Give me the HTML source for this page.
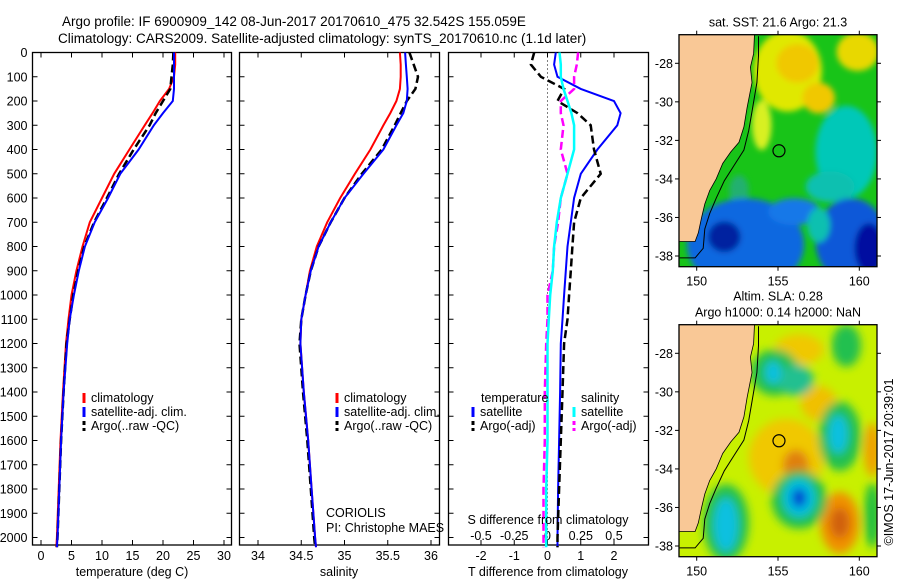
<!DOCTYPE html>
<html><head><meta charset="utf-8"><style>
html,body{margin:0;padding:0;background:#fff}
svg{display:block}
text{font-family:"Liberation Sans",sans-serif;font-size:12.5px;fill:#000}
</style></head><body>
<svg id="fig" width="900" height="580" viewBox="0 0 900 580" xmlns="http://www.w3.org/2000/svg">
<defs>
<filter id="bl" x="-50%" y="-50%" width="200%" height="200%"><feGaussianBlur stdDeviation="4.5"/></filter>
<filter id="bs" x="-50%" y="-50%" width="200%" height="200%"><feGaussianBlur stdDeviation="3"/></filter>
<clipPath id="c1"><rect x="679" y="34.7" width="198" height="232"/></clipPath>
<clipPath id="c2"><rect x="679" y="324.7" width="198" height="232"/></clipPath>
</defs>
<text x="62" y="26" style="font-size:13.5px">Argo profile: IF 6900909_142 08-Jun-2017 20170610_475 32.542S 155.059E</text>
<text x="58" y="43" style="font-size:13.5px">Climatology: CARS2009. Satellite-adjusted climatology: synTS_20170610.nc (1.1d later)</text>
<g id="plots"></g>
<g id="maps"></g>
<text transform="translate(893,462) rotate(-90)" text-anchor="middle" style="font-size:12.5px">©IMOS 17-Jun-2017 20:39:01</text>
</svg>
<script>
const depth=[0,50,100,150,200,250,300,400,500,600,700,800,900,1000,1100,1200,1400,1600,1800,2000,2040];
const tClim=[22,22,21.8,21,19.5,18.3,17,14.5,12,10,8,6.8,5.8,5,4.5,4.1,3.6,3.2,2.9,2.6,2.5];
const tSat=[21.8,21.8,21.8,21.8,21.6,20,18.5,16,13,11,8.8,7.2,6.2,5.4,4.7,4.3,3.7,3.3,3,2.7,2.6];
const tArgo=[21.7,21.6,21.4,21.2,20,18.8,17.8,15.2,12.8,10.8,8.7,7.1,6.1,5.3,4.7,4.2,3.7,3.3,3,2.7,2.6];
const sClim=[35.64,35.65,35.65,35.64,35.6,35.53,35.45,35.3,35.12,34.95,34.8,34.68,34.6,34.55,34.5,34.49,34.53,34.58,34.62,34.66,34.67];
const sSat=[35.7,35.71,35.72,35.73,35.72,35.68,35.6,35.45,35.22,35.0,34.84,34.7,34.61,34.55,34.5,34.49,34.53,34.58,34.62,34.66,34.67];
const sArgo=[35.75,35.8,35.85,35.82,35.72,35.65,35.58,35.43,35.2,35.0,34.84,34.7,34.61,34.55,34.5,34.48,34.52,34.57,34.61,34.65,34.66];
const dTSat=[0.25,0.2,0.3,1.0,2.0,2.2,2.1,1.5,1.0,0.8,0.7,0.6,0.55,0.5,0.45,0.4,0.38,0.35,0.32,0.3,0.3];
const dTArgo=[-0.4,-0.5,-0.2,0.5,0.3,0.9,1.3,1.4,1.6,1.0,0.8,0.75,0.7,0.65,0.6,0.5,0.45,0.4,0.35,0.3,0.3];
const dSSat=[0.09,0.1,0.1,0.12,0.15,0.18,0.2,0.2,0.15,0.1,0.07,0.05,0.04,0.02,0.01,0,0,0,-0.01,-0.01,-0.01];
const dSArgo=[0.23,0.22,0.2,0.2,0.1,0.1,0.12,0.1,0.15,0.1,0.08,0.05,0.04,0,0,-0.01,-0.02,-0.02,-0.03,-0.03,-0.03];
const depthTicks=[0,100,200,300,400,500,600,700,800,900,1000,1100,1200,1300,1400,1500,1600,1700,1800,1900,2000];
const tTicks=[0,5,10,15,20,25,30];
const sTicks=[34,34.5,35,35.5,36];
const dTTicks=[-2,-1,0,1,2];
const dSTicks=[-0.5,-0.25,0,0.25,0.5];

const NS='http://www.w3.org/2000/svg';
const root=document.getElementById('plots');
function el(tag,attrs,parent,txt){const e=document.createElementNS(NS,tag);for(const k in attrs)e.setAttribute(k,attrs[k]);if(txt!==undefined)e.textContent=txt;(parent||root).appendChild(e);return e;}
const TOP=52.5,BOT=545;
const yD=d=>TOP+d*0.2425;
function lin(v0,p0,v1,p1){return v=>p0+(v-v0)*(p1-p0)/(v1-v0);}
const xT=lin(0,41,30,224), xS=lin(34,258,36,431), xDT=lin(-2,481,2,614), xDS=lin(-0.5,481,0.5,614);
const panels=[[32.5,231.5],[239.5,439.5],[448.5,648.5]];

function frame(i,name){const [l,r]=panels[i];
 const g=el('g',{});
 
 
 el('rect',{x:l,y:TOP,width:r-l,height:BOT-TOP,fill:'#fff',stroke:'#000','stroke-width':1.3},g);
 depthTicks.forEach(d=>{const y=yD(d);
  el('line',{x1:l,y1:y,x2:l+5,y2:y,stroke:'#000'},g);
  el('line',{x1:r,y1:y,x2:r-5,y2:y,stroke:'#000'},g);
  if(i===0){const t=el('text',{x:l-5,y:y+4.5,'text-anchor':'end'},g,String(d));
   
   }
 });
 return g;}
function xticks(g,ticks,sx,y0,ly){ticks.forEach(v=>{const x=sx(v);
 el('line',{x1:x,y1:TOP,x2:x,y2:TOP+5,stroke:'#000'},g);
 el('line',{x1:x,y1:BOT,x2:x,y2:BOT-5,stroke:'#000'},g);
 const t=el('text',{x:x,y:ly,'text-anchor':'middle'},g,String(v));
 
 });}
function line(g,xs,sx,color,dash,w,name){
 const pts=xs.map((v,k)=>sx(v).toFixed(1)+','+yD(depth[k]).toFixed(1)).join(' ');
 const p=el('polyline',{points:pts,fill:'none',stroke:color,'stroke-width':w||2,'stroke-dasharray':dash||'none'},g);
 
 }
function legend(g,x,y,color,dash,label,name){
 const m=el('line',{x1:x,y1:y-9,x2:x,y2:y+1,stroke:color,'stroke-width':3,'stroke-dasharray':dash||'none'},g);
 
 
 const t=el('text',{x:x+7,y:y},g,label);
 
 }
function label(g,x,y,txt,name,anchor){const t=el('text',{x:x,y:y,'text-anchor':anchor||'start'},g,txt);
 
 }

let g=frame(0,'temperature-panel');
xticks(g,tTicks,xT,BOT,560);
line(g,tClim,xT,'#f00','',2,'temp-climatology-line');
line(g,tArgo,xT,'#000','8,4',2.5,'temp-argo-line');
line(g,tSat,xT,'#00f','',2,'temp-satellite-line');
label(g,132,576,'temperature (deg C)','x-axis-title','middle');
legend(g,84,402,'#f00','','climatology','legend-climatology');
legend(g,84,416,'#00f','','satellite-adj. clim.','legend-satellite');
legend(g,84,430,'#000','4,3','Argo(..raw -QC)','legend-argo');

g=frame(1,'salinity-panel');
xticks(g,sTicks,xS,BOT,560);
line(g,sClim,xS,'#f00','',2,'sal-climatology-line');
line(g,sArgo,xS,'#000','8,4',2.5,'sal-argo-line');
line(g,sSat,xS,'#00f','',2,'sal-satellite-line');
label(g,339,576,'salinity','x-axis-title','middle');
legend(g,337,402,'#f00','','climatology','legend-climatology');
legend(g,337,416,'#00f','','satellite-adj. clim.','legend-satellite');
legend(g,337,430,'#000','4,3','Argo(..raw -QC)','legend-argo');
label(g,326,517,'CORIOLIS','platform-label');
label(g,326,532,'PI: Christophe MAES','pi-label');

g=frame(2,'difference-panel');
xticks(g,dTTicks,xDT,BOT,560);
dSTicks.forEach(v=>{const t=el('text',{x:xDS(v),y:540,'text-anchor':'middle'},g,String(v));
 
 });
el('line',{x1:xDT(0),y1:TOP,x2:xDT(0),y2:BOT,stroke:'#000','stroke-dasharray':'1,3'},g);
line(g,dTSat,xDT,'#00f','',2,'dT-satellite-line');
line(g,dTArgo,xDT,'#000','8,4',2.5,'dT-argo-line');
line(g,dSArgo,xDS,'#f0f','8,4',2.5,'dS-argo-line');
line(g,dSSat,xDS,'#0ff','',2.5,'dS-satellite-line');
label(g,548,524,'S difference from climatology','s-axis-title','middle');
label(g,548,576,'T difference from climatology','t-axis-title','middle');
label(g,481,402,'temperature','legend-temperature-header');
label(g,581,402,'salinity','legend-salinity-header');
legend(g,473,416,'#00f','','satellite','legend-t-satellite');
legend(g,473,430,'#000','4,3','Argo(-adj)','legend-t-argo');
legend(g,574,416,'#0ff','','satellite','legend-s-satellite');
legend(g,574,430,'#f0f','4,3','Argo(-adj)','legend-s-argo');

const mroot=document.getElementById('maps');
const mx=lin(150,696.7,160,859.3);
const coast=[[153.55,-26.6],[153.5,-27.5],[153.3,-28.2],[153.4,-29],[153.1,-30.3],[152.9,-31.3],[152.6,-32.1],[152.1,-32.6],[151.6,-33.2],[151.2,-34],[150.8,-34.6],[150.5,-35.3],[150.3,-36],[150.1,-36.8],[149.9,-37.25],[148.9,-37.25]];
const shelf=[[153.8,-26.6],[153.8,-27.6],[153.7,-29],[153.4,-30.5],[153.2,-31.5],[152.9,-32.5],[152.3,-33.3],[151.7,-34.1],[151.2,-35],[150.8,-35.8],[150.5,-36.6],[150.4,-37.6],[149.9,-38.1],[148.9,-38.1]];
const sstBlobs=[[155.6,-28.4,2.1,2.1,'#e0e800'],[156.2,-28,1.3,1,'#f0c800'],[157.5,-29.8,1,0.8,'#f0c800'],[159.9,-27.4,1.3,1,'#e8d800'],[154,-31.2,0.6,1.3,'#d8f020'],[159.2,-32.6,1.9,2.4,'#00c8b8'],[158.2,-34.4,1.5,0.8,'#10c0b0'],[152.6,-34.6,0.6,0.8,'#20b070'],[153,-37.4,3.6,2.4,'#1068e0'],[159.5,-37.2,2.2,2.2,'#1058d8'],[156,-35.7,1.6,0.7,'#1878e8'],[151.7,-37,1,0.8,'#0020a0'],[160.6,-37.6,0.9,1.3,'#0010a0'],[157.5,-36.4,0.7,0.9,'#10c0b0']];
const slaBlobs=[[155.5,-33.4,2.3,2,'#f0c800'],[156.1,-33.8,0.8,0.8,'#e08010'],[156.3,-27.8,1.5,0.8,'#f0c800'],[157.5,-30.6,1.1,0.9,'#f0c000'],[160.8,-33,0.5,1.4,'#f0a000'],[158.8,-36.8,1.2,1.6,'#f09000'],[158.8,-36.8,0.6,0.8,'#d06010'],[154.8,-29,1.5,1.2,'#20c050'],[156.1,-29.4,1.1,0.8,'#20c090'],[154.7,-29,0.5,0.6,'#10c0e0'],[158.8,-32.3,1.3,1.8,'#20c050'],[158.7,-32.2,0.6,1,'#10c0e0'],[156.3,-35.6,1.7,1.5,'#20c050'],[156.3,-35.5,1,1,'#00c0e0'],[156.3,-35.5,0.45,0.5,'#0040d0'],[151.8,-36.8,1.4,2,'#20c050'],[151.8,-36.9,0.75,1.4,'#10c0e0'],[159.2,-27.6,0.9,1.1,'#20c050'],[160.8,-36.4,0.5,1.7,'#20c040']];
function mapPanel(top,name,title,bg,blobs,clip,filt){
 const my=lin(-28,top+28.6,-38,top+221.3);
 const g=el('g',{},mroot);
 
 
 const c=el('g',{'clip-path':'url(#'+clip+')'},g);
 el('rect',{x:679,y:top,width:198,height:232,fill:bg},c);
 const bg2=el('g',{filter:'url(#'+filt+')'},c);
 blobs.forEach(b=>{const e=el('ellipse',{cx:mx(b[0]),cy:my(b[1]),rx:b[2]*16.26,ry:b[3]*19.27,fill:b[4]},bg2);
  
  });
 const toP=a=>a.map(p=>mx(p[0]).toFixed(1)+','+my(p[1]).toFixed(1)).join(' ');
 el('polyline',{points:toP(shelf),fill:'none',stroke:'#000','stroke-width':1},c);
 const land=el('polygon',{points:toP(coast)+' '+mx(148.9)+','+(top-2)+' '+mx(153.55)+','+(top-2),fill:'#f9c896',stroke:'#000','stroke-width':0.8},c);
 
 
 const mk=el('circle',{cx:mx(155.06),cy:my(-32.54),r:6,fill:'none',stroke:'#000','stroke-width':1.2},g);
 
 
 el('rect',{x:679,y:top,width:198,height:232,fill:'none',stroke:'#000','stroke-width':1.3},g);
 [150,155,160].forEach(v=>{el('line',{x1:mx(v),y1:top,x2:mx(v),y2:top-4,stroke:'#000'},g);el('line',{x1:mx(v),y1:top+232,x2:mx(v),y2:top+236,stroke:'#000'},g);
  const t=el('text',{x:mx(v),y:top+251,'text-anchor':'middle'},g,String(v));
  
  });
 [-28,-30,-32,-34,-36,-38].forEach(v=>{el('line',{x1:679,y1:my(v),x2:675,y2:my(v),stroke:'#000'},g);el('line',{x1:877,y1:my(v),x2:881,y2:my(v),stroke:'#000'},g);
  const t=el('text',{x:673,y:my(v)+4.5,'text-anchor':'end'},g,String(v));
  
  });
 title.forEach((s,k)=>{const t=el('text',{x:778,y:top-24+k*16+(title.length===1?16:0),'text-anchor':'middle'},g,s);
  
  });
}
mapPanel(34.7,'sst-map',['sat. SST: 21.6 Argo: 21.3'],'#18c418',sstBlobs,'c1','bs');
mapPanel(324.7,'sla-map',['Altim. SLA: 0.28','Argo h1000: 0.14 h2000: NaN'],'#c8f000',slaBlobs,'c2','bl');
</script>
</body></html>
